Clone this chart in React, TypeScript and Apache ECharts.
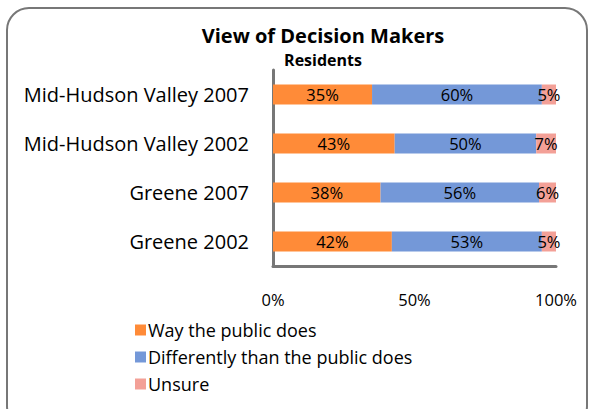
import React, { useEffect, useRef } from "react";
import * as echarts from "echarts";

const categories = ["Mid-Hudson Valley 2007", "Mid-Hudson Valley 2002", "Greene 2007", "Greene 2002"];
const wayPublic = [35, 43, 38, 42];
const differently = [60, 50, 56, 53];
const unsure = [5, 7, 6, 5];
const seriesNames = ["Way the public does", "Differently than the public does", "Unsure"];
const colors = ["#FF8B38", "#7498D8", "#F3A097"];

export default function App() {
  const ref = useRef<HTMLDivElement>(null);
  useEffect(() => {
    const chart = echarts.init(ref.current!, undefined, { renderer: "svg" });
    const font = "Open Sans";
    const mk = (name: string, data: number[], color: string) => ({
      name,
      type: "bar",
      stack: "total",
      data,
      barWidth: 20,
      itemStyle: { color },
      label: {
        show: true,
        position: "inside",
        formatter: "{c}%",
        color: "#000",
        fontSize: 16.5,
        fontFamily: font,
      },
    });
    chart.setOption({
      animation: false,
      title: [
        {
          text: "View of Decision Makers",
          left: 323,
          textAlign: "center",
          top: 25,
          padding: 0,
          textStyle: { fontSize: 20, fontWeight: "bold", color: "#000", fontFamily: font, lineHeight: 20 },
        },
        {
          text: "Residents",
          left: 323,
          textAlign: "center",
          top: 52,
          padding: 0,
          textStyle: { fontSize: 16, fontWeight: "bold", color: "#000", fontFamily: font, lineHeight: 16 },
        },
      ],
      legend: {
        orient: "vertical",
        left: 130,
        top: 316,
        itemWidth: 11,
        itemHeight: 11,
        itemGap: 9,
        icon: "rect",
        textStyle: { fontSize: 18, color: "#000", fontFamily: font, padding: [0, 0, 0, -3] },
        data: seriesNames,
      },
      grid: { left: 273, right: 34, top: 70, bottom: 143, containLabel: false },
      xAxis: {
        type: "value",
        min: 0,
        max: 100,
        interval: 50,
        axisLine: { show: true, lineStyle: { color: "#777", width: 3 } },
        axisTick: { show: false },
        splitLine: { show: false },
        axisLabel: { formatter: "{value}%", fontSize: 16.5, color: "#000", margin: 25, fontFamily: font },
      },
      yAxis: {
        type: "category",
        data: categories,
        inverse: true,
        axisLine: { show: true, lineStyle: { color: "#777", width: 3 } },
        axisTick: { show: false },
        axisLabel: { fontSize: 20, color: "#000", margin: 24, fontFamily: font },
      },
      series: [mk(seriesNames[0], wayPublic, colors[0]), mk(seriesNames[1], differently, colors[1]), mk(seriesNames[2], unsure, colors[2])],
      graphic: [
        {
          type: "rect",
          shape: { x: 7, y: 8, width: 580, height: 420, r: 22 },
          style: { fill: "none", stroke: "#777", lineWidth: 2 },
          silent: true,
        },
      ],
    });
    return () => chart.dispose();
  }, []);
  return <div ref={ref} style={{ width: 590, height: 409, position: "absolute", left: 0, top: 0 }} />;
}
